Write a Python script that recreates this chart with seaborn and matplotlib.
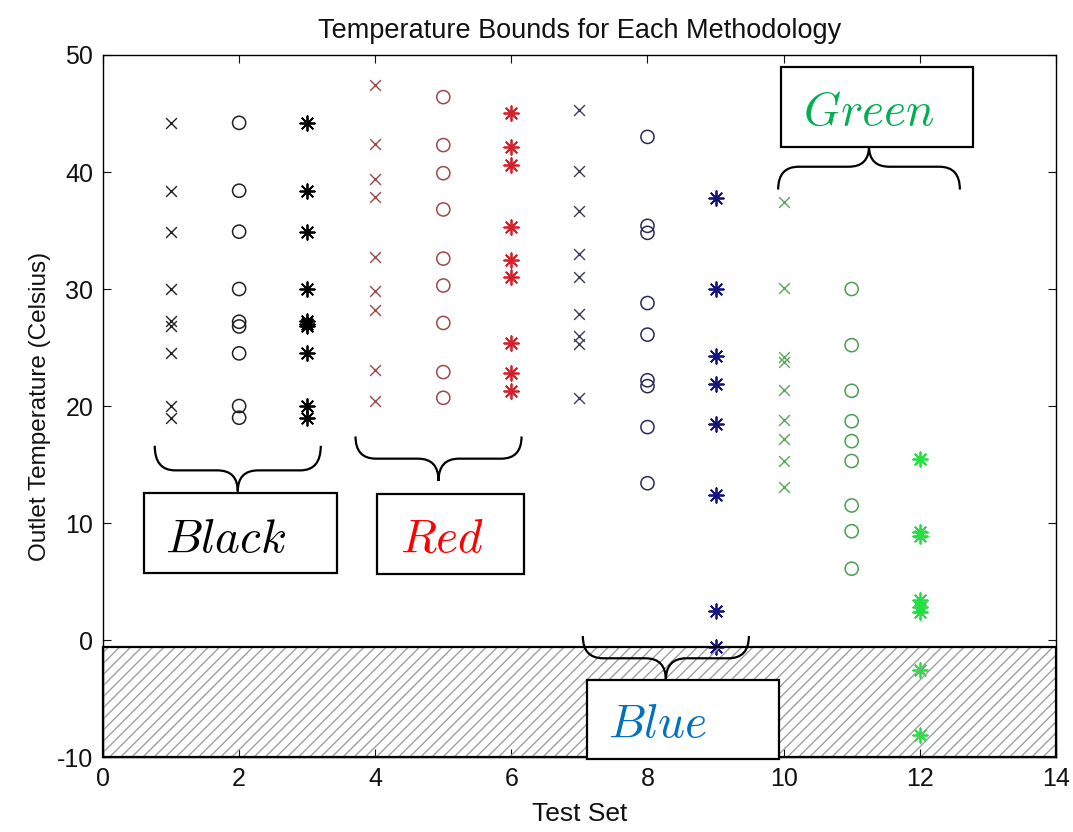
import numpy as np
import pandas as pd
import matplotlib
matplotlib.use("Agg")
import matplotlib.pyplot as plt
from matplotlib.path import Path
from matplotlib.patches import PathPatch, Rectangle
import seaborn as sns

# ---------------- data ----------------
test_sets = [1, 2, 3, 4, 5, 6, 7, 8, 9, 10, 11, 12]
groups = ["Black", "Black", "Black", "Red", "Red", "Red",
          "Blue", "Blue", "Blue", "Green", "Green", "Green"]
marker_kind = ["x", "o", "*"] * 4

set1 = [44.2, 38.4, 34.9, 30.0, 27.3, 26.8, 24.5, 20.0, 19.0]
set2 = [44.2, 38.4, 34.9, 30.0, 27.2, 26.8, 24.5, 20.0, 19.0]
set3 = [44.2, 38.4, 34.9, 30.0, 27.3, 27.0, 26.8, 24.5, 20.0, 19.0]
set4 = [47.4, 42.4, 39.4, 37.9, 32.7, 29.8, 28.2, 23.1, 20.4]
set5 = [46.4, 42.3, 39.9, 36.8, 32.6, 30.3, 27.1, 22.9, 20.7]
set6 = [45.0, 42.1, 40.6, 35.3, 32.5, 31.0, 25.4, 22.8, 21.3]
set7 = [45.3, 40.1, 36.7, 33.0, 31.0, 27.9, 26.0, 25.3, 20.7]
set8 = [43.0, 35.4, 34.8, 28.8, 26.1, 22.2, 21.7, 18.2, 13.4]
set9 = [37.8, 30.0, 24.3, 21.9, 18.5, 12.4, 2.5, -0.6]
set10 = [37.4, 30.1, 24.2, 23.8, 21.4, 18.8, 17.2, 15.3, 13.1]
set11 = [30.0, 25.2, 21.3, 18.7, 17.0, 15.3, 11.5, 9.3, 6.1]
set12 = [15.5, 9.2, 8.9, 3.4, 2.8, 2.4, -2.6, -8.1]
all_sets = [set1, set2, set3, set4, set5, set6, set7, set8, set9, set10, set11, set12]

x_ticks = [0, 2, 4, 6, 8, 10, 12, 14]
y_ticks = [-10, 0, 10, 20, 30, 40, 50]

title = "Temperature Bounds for Each Methodology"
xlabel = "Test Set"
ylabel = "Outlet Temperature (Celsius)"

# ---------------- style ----------------
sns.set_theme(style="ticks")
plt.rcParams["font.family"] = ["Liberation Sans", "DejaVu Sans"]
plt.rcParams["mathtext.fontset"] = "cm"
plt.rcParams["axes.unicode_minus"] = False
plt.rcParams["hatch.linewidth"] = 1.0
plt.rcParams["text.color"] = "#111111"
plt.rcParams["axes.labelcolor"] = "#111111"

marker_colors = {
    ("Black", "x"): "#202020", ("Black", "o"): "#202020", ("Black", "*"): "#000000",
    ("Red", "x"): "#a04848", ("Red", "o"): "#a04848", ("Red", "*"): "#d8202a",
    ("Blue", "x"): "#3a3a5a", ("Blue", "o"): "#2a2a5a", ("Blue", "*"): "#14147a",
    ("Green", "x"): "#58a858", ("Green", "o"): "#4aa050", ("Green", "*"): "#22e040",
}
label_colors = {"Black": "#000000", "Red": "#ff0000", "Blue": "#0070c0", "Green": "#00b050"}

rows = []
for ts, grp, mk, vals in zip(test_sets, groups, marker_kind, all_sets):
    for v in vals:
        rows.append({"Test Set": ts, "Temp": v, "group": grp, "kind": mk})
df = pd.DataFrame(rows)

fig = plt.figure(figsize=(10.73, 8.32), dpi=100)
ax = fig.add_axes([0.096, 0.0901, 0.888, 0.8438])

for ts, grp, mk in zip(test_sets, groups, marker_kind):
    sub = df[df["Test Set"] == ts]
    c = marker_colors[(grp, mk)]
    if mk == "o":
        sns.scatterplot(data=sub, x="Test Set", y="Temp", ax=ax, marker="o", s=90,
                        color=c, facecolor="none", edgecolor=c, linewidth=1.1, zorder=3)
    elif mk == "x":
        sns.scatterplot(data=sub, x="Test Set", y="Temp", ax=ax, marker="x", s=60,
                        color=c, linewidth=1.0, zorder=3)
    else:
        sns.scatterplot(data=sub, x="Test Set", y="Temp", ax=ax, marker=(8, 2, 0), s=110,
                        color=c, edgecolor=c, linewidth=1.3, zorder=3)

ax.set_xlim(0, 14)
ax.set_ylim(-10, 50)
ax.set_xticks(x_ticks)
ax.set_yticks(y_ticks)
ax.tick_params(direction="in", top=True, right=True, length=6, width=0.8,
               labelsize=18, colors="#111111", pad=7)
for sp in ax.spines.values():
    sp.set_linewidth(1.0)
    sp.set_color("black")

ax.set_title(title, fontsize=19.5, pad=12)
ax.set_xlabel(xlabel, fontsize=19, labelpad=8)
ax.set_ylabel(ylabel, fontsize=17.5, labelpad=4)

# hatched region below zero
ax.add_patch(Rectangle((0, -10), 14, 9.4, facecolor="none", edgecolor="#a0a0a0",
                       hatch="///", linewidth=0, zorder=4, clip_on=False))
ax.add_patch(Rectangle((0, -10), 14, 9.4, facecolor="none", edgecolor="black",
                       linewidth=1.6, zorder=4.5, clip_on=False))


def brace(ax, x0, x1, ye, ym, yt, dx=0.3, lw=1.6):
    xc = (x0 + x1) / 2
    verts = [(x0, ye), (x0, ym), (x0 + dx, ym),
             (xc - dx, ym), (xc, ym), (xc, yt),
             (xc, ym), (xc + dx, ym),
             (x1 - dx, ym), (x1, ym), (x1, ye)]
    codes = [Path.MOVETO, Path.CURVE3, Path.CURVE3,
             Path.LINETO, Path.CURVE3, Path.CURVE3,
             Path.CURVE3, Path.CURVE3,
             Path.LINETO, Path.CURVE3, Path.CURVE3]
    ax.add_patch(PathPatch(Path(verts, codes), facecolor="none", edgecolor="black",
                           linewidth=lw, zorder=6, clip_on=False))


def label_box(ax, x0, x1, y0, y1, text, tx, ty, color):
    ax.add_patch(Rectangle((x0, y0), x1 - x0, y1 - y0, facecolor="white",
                           edgecolor="black", linewidth=1.6, zorder=7, clip_on=False))
    ax.text(tx, ty, r"$\mathit{%s}$" % text, fontsize=34, color=color,
            ha="left", va="baseline", zorder=8, clip_on=False)


brace(ax, 0.76, 3.20, 16.6, 14.5, 12.7)
brace(ax, 3.71, 6.15, 17.4, 15.5, 13.6)
brace(ax, 7.05, 9.49, 0.34, -1.56, -3.42)
brace(ax, 9.92, 12.59, 38.5, 40.45, 42.2)

label_box(ax, 0.60, 3.44, 5.75, 12.6, "Black", 0.91, 7.55, label_colors["Black"])
label_box(ax, 4.03, 6.18, 5.64, 12.45, "Red", 4.36, 7.55, label_colors["Red"])
label_box(ax, 7.11, 9.93, -10.17, -3.42, "Blue", 7.42, -8.26, label_colors["Blue"])
label_box(ax, 9.96, 12.79, 42.16, 48.95, "Green", 10.29, 44.0, label_colors["Green"])

fig.savefig("out.png", dpi=100)
